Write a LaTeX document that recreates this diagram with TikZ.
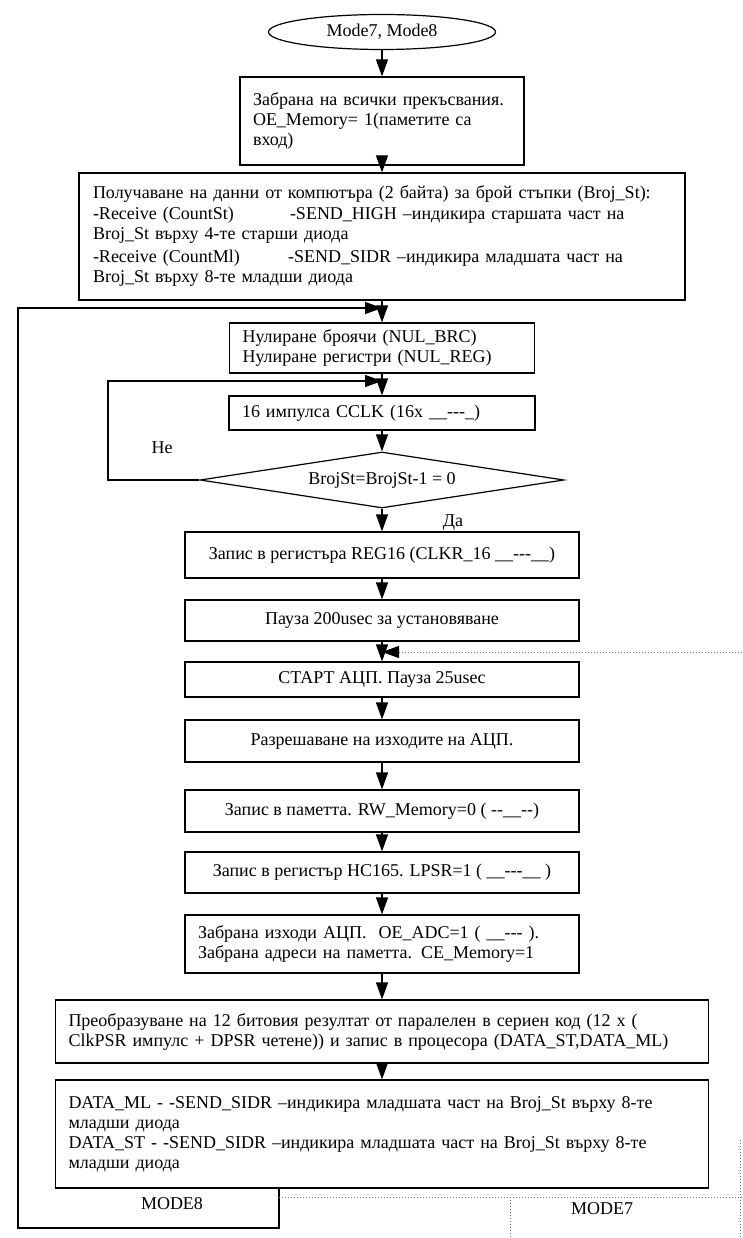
\documentclass[tikz,border=0pt]{standalone}
\usepackage{fontspec}
\setmainfont{Liberation Serif}
\usetikzlibrary{arrows.meta, shapes.geometric}

\begin{document}
\begin{tikzpicture}[x=1pt, y=-1pt, line width=1.2pt,
    font=\fontsize{18}{20}\selectfont,
    blok/.style={draw, rectangle, inner sep=0pt},
    blokl/.style={blok, align=left, inner xsep=13pt},
    pijl/.style={-{Triangle[length=17pt, width=12pt]}},
    stip/.style={dotted, line width=1pt, black!55}]
    \useasboundingbox (0,0) rectangle (742,1238);
    % Start
    \node[draw, ellipse, inner sep=0pt, minimum width=227pt, minimum height=35pt] (start) at (382,32) {Mode7, Mode8};
    % Upper boxes
    \node[blokl, text width=258pt, minimum height=88pt] (zabrana) at (382,121)
        {Забрана на всички прекъсвания.\\ OE\_Memory= 1(паметите са\\ вход)};
    \node[blok, align=left, inner xsep=14pt, text width=578pt, minimum height=127pt] (poluch) at (382,236.5)
        {Получаване на данни от компютъра (2 байта) за брой стъпки (Broj\_St):\\[1pt]
         \makebox[197pt][l]{-Receive (CountSt)}-SEND\_HIGH –индикира старшата част на\\
         Broj\_St върху 4-те старши диода\\[3pt]
         \makebox[195pt][l]{-Receive (CountMl)}-SEND\_SIDR –индикира младшата част на\\
         Broj\_St върху 8-те младши диода};
    \node[blokl, text width=279pt, minimum height=50pt] (nul) at (382,348)
        {Нулиране броячи (NUL\_BRC)\\ Нулиране регистри (NUL\_REG)};
    \node[blokl, text width=280pt, minimum height=34pt] (imp) at (382,413)
        {16 импулса CCLK (16x \_\_-{}-{}-\_)};
    % Decision
    \node[draw, diamond, inner sep=0pt, aspect=6.5, minimum width=364pt, minimum height=56pt] (romb) at (382,480)
        {BrojSt=BrojSt-1 = 0};
    \node (ne) at (162,448) {Не};
    \node (da) at (453,523) {Да};
    % Middle boxes
    \node[blok, minimum width=394pt, minimum height=46pt] (reg16) at (382,555)
        {Запис в регистъра REG16 (CLKR\_16 \_\_-{}-{}-\_\_)};
    \node[blok, minimum width=394pt, minimum height=41pt] (pauza) at (382,620.5)
        {Пауза 200usec за установяване};
    \node[blok, minimum width=394pt, minimum height=35pt] (adc) at (382,679.5)
        {СТАРТ АЦП. Пауза 25usec};
    \node[blok, minimum width=394pt, minimum height=42pt] (razr) at (382,741)
        {Разрешаване на изходите на АЦП.};
    \node[blok, minimum width=394pt, minimum height=42pt] (pamet) at (382,811)
        {Запис в паметта. RW\_Memory=0 ( -{}-\_\_-{}-)};
    \node[blok, minimum width=394pt, minimum height=41pt] (hc) at (382,872.5)
        {Запис в регистър HC165. LPSR=1 ( \_\_-{}-{}-\_\_ )};
    \node[blokl, text width=368pt, minimum height=58pt] (izh) at (382,944)
        {Забрана изходи АЦП.\ \ OE\_ADC=1 ( \_\_-{}-{}- ).\\ Забрана адреси на паметта. CE\_Memory=1};
    % Lower boxes
    \node[blokl, text width=627pt, minimum height=63pt] (preobr) at (382,1031.5)
        {Преобразуване на 12 битовия резултат от паралелен в сериен код (12 x (\\
         ClkPSR импулс + DPSR четене)) и запис в процесора (DATA\_ST,DATA\_ML)};
    \node[blokl, text width=627pt, minimum height=108pt] (data) at (382,1134)
        {DATA\_ML - -SEND\_SIDR –индикира младшата част на Broj\_St върху 8-те\\
         младши диода\\
         DATA\_ST - -SEND\_SIDR –индикира младшата част на Broj\_St върху 8-те\\
         младши диода};
    \node (mode8) at (172,1204) {MODE8};
    \node (mode7) at (602,1209) {MODE7};
    % Main flow
    \draw[pijl] (start) -- (zabrana);
    \draw[pijl] (zabrana) -- (poluch);
    \draw[pijl] (poluch) -- (nul);
    \draw[pijl] (nul) -- (imp);
    \draw[pijl] (imp) -- (romb);
    \draw[pijl] (romb) -- (reg16);
    \draw[pijl] (reg16) -- (pauza);
    \draw[pijl] (pauza) -- (adc);
    \draw[pijl] (adc) -- (razr);
    \draw[pijl] (razr) -- (pamet);
    \draw[pijl] (pamet) -- (hc);
    \draw[pijl] (hc) -- (izh);
    \draw[pijl] (izh) -- (preobr);
    \draw[pijl] (preobr) -- (data);
    % Loops
    \coordinate (lus1) at (382,308);
    \coordinate (lus2) at (382,381);
    \coordinate (lus3) at (382,652);
    \coordinate (m8) at (279,1188);
    \draw[pijl] (romb.west) -- (108,480) |- (lus2);
    \draw[pijl] (m8) |- (18,1228) |- (lus1);
    % MODE7 (dotted)
    \draw[stip, -{Triangle[length=17pt, width=12pt, color=black]}] (742,652) -- (lus3);
    \draw[stip] (279,1197) -- (742,1197);
    \draw[stip] (510,1197) -- (510,1238);
    \draw[stip] (740,1140) -- (740,1238);
\end{tikzpicture}
\end{document}
